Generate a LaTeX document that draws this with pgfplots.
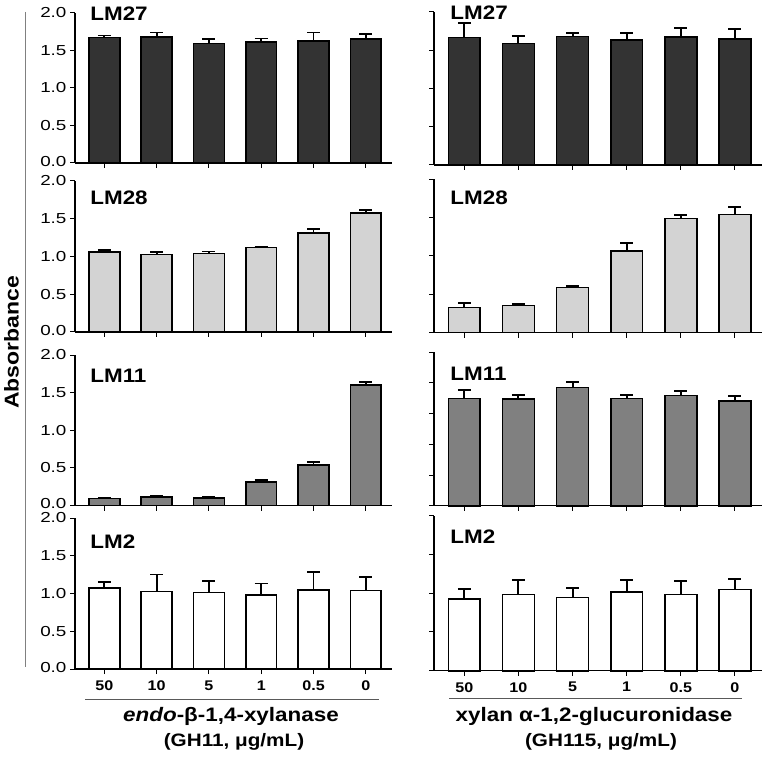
\documentclass[border=0pt]{standalone}
\usepackage{pgfplots}
\pgfplotsset{compat=1.18}
\usepackage{fontspec}
\setmainfont{Liberation Sans}[FakeStretch=1.15]
\newfontfamily\tickfont{Liberation Sans}[FakeStretch=1.3]
\definecolor{cdark}{HTML}{333333}
\definecolor{clight}{HTML}{D3D3D3}
\definecolor{cmid}{HTML}{808080}
\tikzset{ttl/.style={anchor=west, inner sep=0pt, font=\bfseries\fontsize{19.5}{20}\selectfont}}
\pgfplotsset{
  panel/.style={
    scale only axis, anchor=south west,
    axis x line=bottom, axis y line=left,
    axis line style={-, line width=1.3pt},
    xmin=-0.56, xmax=5.5, ymin=0, ymax=2,
    xtick={0,1,2,3,4,5}, xticklabels={},
    ytick={0,0.5,1,1.5,2},
    yticklabels={\raisebox{3.5pt}{0.0},0.5,1.0,1.5,2.0},
    tick align=outside, major tick length=5pt,
    tick style={line width=1pt, black},
    yticklabel style={inner ysep=0pt, font=\fontsize{14.5}{14.5}\tickfont},
    xticklabel style={yshift=-3pt, font=\bfseries\fontsize{14}{14}\selectfont},
    /pgf/number format/assume math mode=true,
    clip=false,
  },
  lpanel/.style={panel, width=317pt},
  rpanel/.style={panel, width=328pt, yticklabels={}},
  bottomlab/.style={xticklabels={50,10,5,1,0.5,0}},
  barsty/.style={ybar, bar width=0.59, bar shift=0pt, draw=black, line width=1.6pt, fill=#1,
    error bars/.cd, y dir=plus, y explicit,
    error bar style={line width=1.9pt, black},
    error mark options={rotate=90, mark size=6.5pt, line width=1.9pt, black}},
}
\begin{document}
\begin{tikzpicture}
\useasboundingbox (0,0) rectangle (767pt,758pt);
% ---------- left column ----------
\begin{axis}[lpanel, at={(75pt,595pt)}, height=150pt]
\addplot[barsty=cdark] coordinates {(0,1.675) +- (0,0.025) (1,1.68) +- (0,0.06) (2,1.595) +- (0,0.055) (3,1.617) +- (0,0.043) (4,1.63) +- (0,0.11) (5,1.657) +- (0,0.058)};
\node[ttl] at (axis cs:-0.27,1.99) {LM27};
\end{axis}
\begin{axis}[lpanel, at={(75pt,426pt)}, height=151pt]
\addplot[barsty=clight] coordinates {(0,1.057) +- (0,0.027) (1,1.026) +- (0,0.034) (2,1.04) +- (0,0.026) (3,1.12) +- (0,0.006) (4,1.313) +- (0,0.057) (5,1.577) +- (0,0.043)};
\node[ttl] at (axis cs:-0.27,1.78) {LM28};
\end{axis}
\begin{axis}[lpanel, at={(75pt,252.5pt)}, height=150.5pt]
\addplot[barsty=cmid] coordinates {(0,0.093) +- (0,0.007) (1,0.11) +- (0,0.014) (2,0.10) +- (0,0.015) (3,0.314) +- (0,0.026) (4,0.54) +- (0,0.04) (5,1.60) +- (0,0.046)};
\node[ttl] at (axis cs:-0.27,1.73) {LM11};
\end{axis}
\begin{axis}[lpanel, bottomlab, at={(75pt,89pt)}, height=151pt]
\addplot[barsty=white] coordinates {(0,1.075) +- (0,0.08) (1,1.027) +- (0,0.225) (2,1.013) +- (0,0.151) (3,0.982) +- (0,0.151) (4,1.044) +- (0,0.235) (5,1.04) +- (0,0.177)};
\node[ttl] at (axis cs:-0.27,1.69) {LM2};
\end{axis}
% ---------- right column ----------
\begin{axis}[rpanel, at={(434pt,593pt)}, height=153pt]
\addplot[barsty=cdark] coordinates {(0,1.665) +- (0,0.195) (1,1.587) +- (0,0.10) (2,1.678) +- (0,0.052) (3,1.63) +- (0,0.10) (4,1.674) +- (0,0.113) (5,1.648) +- (0,0.13)};
\node[ttl] at (axis cs:-0.26,1.99) {LM27};
\end{axis}
\begin{axis}[rpanel, at={(434pt,425.3pt)}, height=153.4pt]
\addplot[barsty=clight] coordinates {(0,0.326) +- (0,0.057) (1,0.357) +- (0,0.021) (2,0.587) +- (0,0.022) (3,1.065) +- (0,0.105) (4,1.49) +- (0,0.04) (5,1.543) +- (0,0.097)};
\node[ttl] at (axis cs:-0.26,1.755) {LM28};
\end{axis}
\begin{axis}[rpanel, at={(434pt,252.3pt)}, height=153.4pt, ytick={0,0.4,0.8,1.2,1.6,2.0}]
\addplot[barsty=cmid] coordinates {(0,1.40) +- (0,0.104) (1,1.39) +- (0,0.053) (2,1.543) +- (0,0.07) (3,1.396) +- (0,0.047) (4,1.435) +- (0,0.056) (5,1.365) +- (0,0.07)};
\node[ttl] at (axis cs:-0.26,1.725) {LM11};
\end{axis}
\begin{axis}[rpanel, bottomlab, at={(434pt,87.3pt)}, height=155pt]
\addplot[barsty=white] coordinates {(0,0.925) +- (0,0.125) (1,0.985) +- (0,0.189) (2,0.946) +- (0,0.116) (3,1.019) +- (0,0.151) (4,0.985) +- (0,0.172) (5,1.049) +- (0,0.129)};
\node[ttl] at (axis cs:-0.26,1.725) {LM2};
\end{axis}
% ---------- decorations ----------
\draw[line width=1pt, color=black!50] (25pt,746pt) -- (25pt,91pt);
\node[rotate=90, font=\bfseries\fontsize{20}{20}\selectfont] at (11.5pt,415.5pt) {Absorbance};
\draw[line width=0.8pt, color=black!65] (85pt,59pt) -- (379pt,59pt);
\draw[line width=0.8pt, color=black!65] (449pt,60pt) -- (742pt,60pt);
\node[font=\bfseries\fontsize{19.5}{20}\selectfont] at (231pt,41.3pt) {\textit{endo}-β-1,4-xylanase};
\node[font=\bfseries\fontsize{18}{18}\selectfont] at (234pt,16.3pt) {(GH11, μg/mL)};
\node[font=\bfseries\fontsize{19.5}{20}\selectfont] at (594pt,41.3pt) {xylan α-1,2-glucuronidase};
\node[font=\bfseries\fontsize{18}{18}\selectfont] at (601pt,16.3pt) {(GH115, μg/mL)};
\end{tikzpicture}
\end{document}
